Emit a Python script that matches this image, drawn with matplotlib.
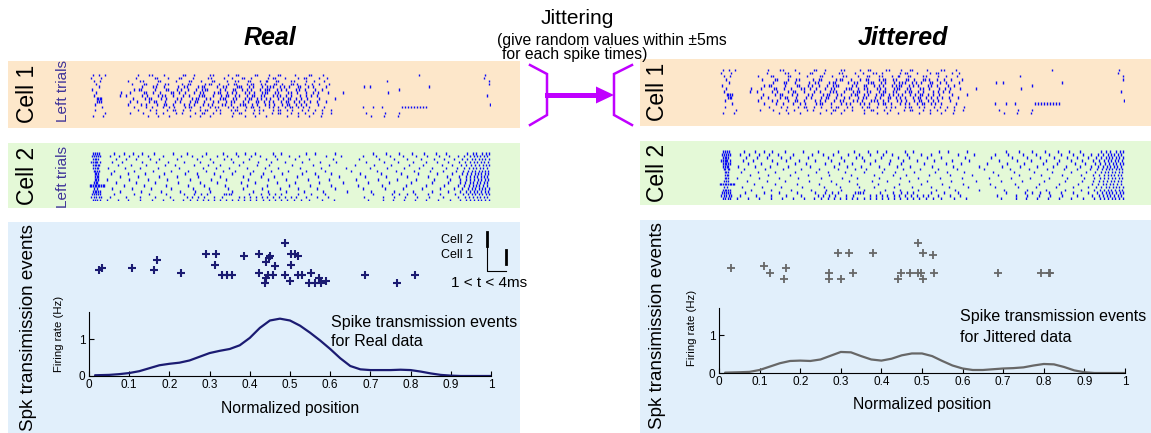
import numpy as np
import matplotlib
matplotlib.use("Agg")
import matplotlib.pyplot as plt
from matplotlib.patches import Rectangle, Polygon
from matplotlib.lines import Line2D

plt.rcParams['font.family'] = ['Liberation Sans', 'DejaVu Sans']

W, H = 1151, 433

# ---------------------------------------------------------------------------
# Spike rasters: one string per left-turn trial, spike positions given in
# thousandths of the normalized track position.
# ---------------------------------------------------------------------------
cell1_trials = [
    "9 24 40 121 150 157 186 233 240 262 301 309 347 366 371 412 418 449 470 476 512 547 553 583 821 984",
    "4 30 118 163 170 197 224 229 258 296 303 336 355 380 386 402 446 458 463 487 519 534 540 573 592 983",
    "13 27 96 127 134 171 176 217 249 253 279 306 312 343 364 370 395 401 426 440 444 466 471 503 511 540 559 585 742 996",
    "17 107 138 143 169 190 196 232 247 251 288 299 304 324 347 361 366 393 404 409 429 437 460 466 481 502 508 517 538 554 571 598 996",
    "24 133 160 166 187 222 236 243 271 280 285 318 333 340 367 374 379 399 408 430 443 451 457 476 484 497 519 525 545 558 590 683 699 846",
    "7 111 124 129 163 191 197 219 228 246 267 281 289 294 327 338 357 363 381 394 403 425 437 444 449 467 478 490 514 522 537 563 580 771",
    "18 80 103 136 141 159 177 203 209 224 240 261 277 284 312 320 325 343 356 365 389 397 410 431 439 444 463 470 495 503 518 541 556 569 594 633 743",
    "12 76 93 131 144 171 182 188 209 234 248 273 282 287 308 329 341 346 364 372 393 405 410 428 436 457 468 474 491 502 526 539 552 567 991",
    "19 23 27 31 109 139 150 155 179 192 219 230 257 266 271 291 300 325 334 339 358 366 387 399 404 418 429 441 450 471 483 494 499 516 528 543 573 611",
    "21 26 30 103 120 150 162 167 189 214 227 252 263 268 287 309 321 342 354 361 384 396 416 421 435 447 458 477 489 494 511 522 536 549 566 589",
    "16 97 130 143 170 186 192 210 237 249 261 283 297 305 331 339 352 375 383 389 405 417 438 449 461 480 493 498 514 527 540 569 997",
    "33 111 141 157 183 199 212 238 249 254 275 301 313 322 347 358 369 391 404 409 424 447 458 469 488 500 506 521 533 548 584 681 707 730 779 786 794 801 809 816 823 831 838",
    "14 123 152 167 194 209 214 235 251 277 288 293 315 327 352 364 369 388 411 423 434 457 469 474 492 504 529 545 561 579 603",
    "41 101 134 166 184 216 231 263 280 285 309 327 358 374 379 407 422 455 471 476 503 520 538 557 579 601 689 736 770",
    "11 36 147 171 199 250 276 301 356 388 414 441 493 520 548 577 702 733 769",
]

cell2_trials = [
    "10 15 20 25 62 88 110 131 162 208 243 292 333 366 389 412 457 478 541 563 611 706 738 772 803 834 862 889 941 954 963 977 988 996",
    "8 13 18 22 27 51 74 99 122 146 183 229 256 281 318 344 371 404 426 462 497 523 589 627 681 713 748 781 814 842 871 896 917 934 947 957 966 973 982 991",
    "9 14 18 23 66 93 118 152 174 219 268 301 337 352 398 441 467 513 548 606 671 722 759 791 826 858 883 908 928 941 952 960 969 978 986 994",
    "5 10 14 17 20 27 58 83 131 166 197 236 277 309 358 384 421 452 488 530 574 615 689 733 769 806 838 866 893 921 936 949 958 966 975 983 992",
    "10 14 18 22 26 71 104 143 188 214 261 296 327 372 419 449 505 558 597 661 709 751 797 832 877 902 925 939 951 961 970 979 987 995",
    "11 15 19 23 47 89 126 171 225 283 316 349 393 438 471 524 577 640 698 741 784 822 854 889 916 934 945 955 963 972 981 990",
    "12 16 21 25 62 113 158 203 247 292 334 362 407 452 496 540 586 652 716 763 808 849 881 913 931 944 953 961 969 977 985 993",
    "14 18 22 54 97 139 186 239 268 311 356 401 433 480 531 562 603 675 726 777 819 866 903 927 940 950 959 967 976 984 992",
    "15 19 23 76 121 175 218 272 326 382 428 461 517 569 622 687 740 792 844 891 920 937 948 957 966 974 983 991",
    "14 18 22 44 99 147 194 251 304 341 395 446 489 544 598 664 718 766 813 857 898 924 938 949 958 967 975 984 993",
    "13 17 21 68 118 163 221 275 319 377 414 467 513 571 633 694 747 801 852 894 922 936 947 956 965 973 982 990",
    "2 6 10 14 18 22 26 30 34 38 86 137 191 246 287 339 392 443 498 549 602 668 729 788 838 884 919 933 945 954 963 971 980 989",
    "12 19 57 106 153 205 259 298 345 383 431 476 521 567 613 681 736 781 829 873 909 929 942 952 961 970 978 986 994",
    "10 14 18 22 28 78 129 178 227 263 301 356 408 446 489 534 582 641 701 759 806 853 892 924 938 948 957 966 975 984 993",
    "8 13 18 23 28 63 111 149 192 236 262 278 294 336 342 348 354 397 428 448 463 478 521 553 588 707 753 771 790 812 843 873 910 931 943 952 960 969 978 987 995",
    "6 12 18 24 30 51 92 128 164 201 244 257 271 285 312 331 372 386 401 415 430 444 458 472 487 502 516 539 568 594 685 731 759 787 815 846 881 918 935 946 955 964 973 982 991",
    "9 15 21 27 44 71 98 127 156 183 209 233 251 268 283 297 312 327 341 356 371 386 401 416 432 447 463 478 493 509 527 548 580 609 694 731 757 784 811 838 867 897 924 938 949 958 967 976 985 994",
]

# ---------------------------------------------------------------------------
# Spike transmission events (position, stacking level) and firing-rate curves
# ---------------------------------------------------------------------------
real_event_pos = [0.025, 0.032, 0.107, 0.162, 0.168, 0.230, 0.290, 0.316, 0.313, 0.330,
                  0.343, 0.356, 0.386, 0.424, 0.450, 0.447, 0.441, 0.424, 0.445, 0.458,
                  0.441, 0.437, 0.462, 0.488, 0.503, 0.512, 0.519, 0.503, 0.488, 0.499,
                  0.520, 0.531, 0.552, 0.548, 0.561, 0.573, 0.578, 0.590, 0.687, 0.767,
                  0.812]
real_event_lvl = [5.5, 6.2, 6.2, 5.5, 8.5, 4.7, 10.0, 10.0, 7.0, 4.0,
                  4.0, 4.0, 9.5, 10.0, 9.5, 9.0, 7.8, 4.7, 4.0, 4.0,
                  3.2, 1.7, 6.5, 13.2, 10.0, 10.0, 9.5, 7.0, 4.0, 2.2,
                  4.0, 4.0, 4.7, 1.7, 1.7, 3.2, 1.7, 2.2, 4.0, 1.7,
                  4.0]

jit_event_pos = [0.029, 0.110, 0.125, 0.166, 0.160, 0.272, 0.272, 0.293, 0.319, 0.300,
                 0.331, 0.379, 0.442, 0.448, 0.470, 0.491, 0.491, 0.497, 0.502, 0.503,
                 0.528, 0.530, 0.686, 0.792, 0.813, 0.816]
jit_event_lvl = [5.5, 6.3, 4.0, 5.5, 2.2, 4.0, 2.2, 10.0, 10.0, 2.2,
                 4.0, 10.0, 2.2, 4.0, 4.0, 4.0, 13.2, 4.0, 2.2, 10.0,
                 9.5, 4.0, 4.0, 4.0, 4.0, 4.0]

rate_pos = [0.015, 0.05, 0.075, 0.1, 0.125, 0.15, 0.175, 0.2, 0.225, 0.25,
            0.275, 0.3, 0.325, 0.35, 0.375, 0.4, 0.425, 0.45, 0.475, 0.5,
            0.525, 0.55, 0.575, 0.6, 0.625, 0.65, 0.675, 0.7, 0.725, 0.75,
            0.775, 0.8, 0.825, 0.85, 0.875, 0.9, 0.925, 0.95, 0.975, 1.0]
real_rate = [0.02, 0.03, 0.05, 0.08, 0.13, 0.21, 0.29, 0.33, 0.36, 0.42,
             0.52, 0.62, 0.68, 0.73, 0.83, 1.03, 1.30, 1.50, 1.55, 1.50,
             1.36, 1.17, 0.96, 0.73, 0.48, 0.27, 0.18, 0.16, 0.16, 0.16,
             0.17, 0.16, 0.12, 0.07, 0.03, 0.01, 0.0, 0.0, 0.0, 0.0]
jit_rate = [0.01, 0.02, 0.03, 0.08, 0.17, 0.26, 0.32, 0.33, 0.32, 0.36,
            0.46, 0.56, 0.55, 0.45, 0.36, 0.33, 0.38, 0.47, 0.52, 0.52,
            0.45, 0.32, 0.20, 0.12, 0.08, 0.08, 0.10, 0.12, 0.13, 0.15,
            0.20, 0.24, 0.23, 0.16, 0.07, 0.02, 0.0, 0.0, 0.0, 0.0]

x_ticks = [0, 0.1, 0.2, 0.3, 0.4, 0.5, 0.6, 0.7, 0.8, 0.9, 1]
x_tick_labels = ["0", "0.1", "0.2", "0.3", "0.4", "0.5", "0.6", "0.7", "0.8", "0.9", "1"]

ORANGE = "#FDE7CA"
GREEN = "#E4F9D7"
BLUE_BG = "#E1EFFB"
SPIKE = "#0A0AF5"
NAVY = "#1B1B72"
GREY = "#676767"
MAGENTA = "#C000FF"
LABEL_PURPLE = "#3F3399"

fig = plt.figure(figsize=(W / 100, H / 100), dpi=100)


def rect(x0, y0, x1, y1):
    """Figure-fraction rectangle from pixel bounds (origin top-left)."""
    return [x0 / W, 1 - y1 / H, (x1 - x0) / W, (y1 - y0) / H]


def P(x, y):
    return (x / W, 1 - y / H)


def background(x0, y0, x1, y1, color):
    r = Rectangle(P(x0, y1), (x1 - x0) / W, (y1 - y0) / H, transform=fig.transFigure,
                  facecolor=color, edgecolor="none", zorder=-10)
    fig.add_artist(r)


def text(x, y, s, **kw):
    kw.setdefault("ha", "center")
    kw.setdefault("va", "center")
    fig.text(x / W, 1 - y / H, s, **kw)


def raster(box, trials):
    ax = fig.add_axes(rect(*box))
    spikes = [[int(v) / 1000 for v in t.split()] for t in trials]
    ax.eventplot(spikes, orientation="horizontal", lineoffsets=list(range(len(spikes))),
                 linelengths=0.85, linewidths=1.0, colors=SPIKE)
    ax.set_xlim(0, 1)
    ax.set_ylim(len(spikes) - 0.5, -0.5)
    ax.axis("off")
    return ax


def events(box, pos, lvl, color, ms, mew):
    ax = fig.add_axes(rect(*box))
    ax.plot(pos, lvl, linestyle="none", marker="+", color=color, ms=ms, mew=mew)
    ax.set_xlim(0, 1)
    ax.set_ylim(0, 15)
    ax.axis("off")
    return ax


def rate(box, pos, values, color):
    ax = fig.add_axes(rect(*box))
    ax.patch.set_visible(False)
    ax.plot(pos, values, color=color, lw=1.6, solid_capstyle="round")
    ax.set_xlim(0, 1)
    ax.set_ylim(0, 1.73)
    ax.set_xticks(x_ticks)
    ax.set_xticklabels(x_tick_labels)
    ax.set_yticks([0, 1])
    ax.set_yticklabels(["0", "1"])
    for side in ("top", "right"):
        ax.spines[side].set_visible(False)
    for side in ("left", "bottom"):
        ax.spines[side].set_linewidth(0.8)
    ax.tick_params(direction="in", length=3.5, width=0.8, labelsize=8.5, pad=2.5)
    return ax


# --- coloured panels -------------------------------------------------------
background(8, 61, 520, 128, ORANGE)
background(8, 143, 520, 208, GREEN)
background(8, 222, 520, 433, BLUE_BG)
background(640, 59, 1151, 126, ORANGE)
background(640, 141, 1151, 205, GREEN)
background(640, 220, 1151, 433, BLUE_BG)

# --- rasters ----------------------------------------------------------------
raster((89, 73.5, 491, 117.5), cell1_trials)
raster((89, 151.8, 491, 201.5), cell2_trials)
raster((719, 68.5, 1125, 114.5), cell1_trials)
raster((719, 150.2, 1125, 200.0), cell2_trials)

# --- spike transmission events and firing rates -----------------------------
events((89, 237.2, 491, 288.9), real_event_pos, real_event_lvl, NAVY, 6, 1.5)
events((719, 236.7, 1125, 286.7), jit_event_pos, jit_event_lvl, GREY, 5.5, 1.3)
rate((89, 312, 491, 376), rate_pos, real_rate, NAVY)
rate((719, 308, 1125, 373), rate_pos, jit_rate, GREY)

# --- titles and labels ------------------------------------------------------
text(270, 38, "Real", fontsize=18, fontweight="bold", fontstyle="italic")
text(903, 38, "Jittered", fontsize=18, fontweight="bold", fontstyle="italic")
text(577, 18, "Jittering", fontsize=15)
text(497, 40, "(give random values within \u00b15ms", fontsize=11.3, ha="left")
text(502, 55, "for each spike times)", fontsize=11.3, ha="left")

for cx, y1, y2 in ((27, 94, 176), (658, 92, 173)):
    text(cx, y1, "Cell 1", fontsize=16.5, rotation=90)
    text(cx, y2, "Cell 2", fontsize=16.5, rotation=90)
text(63, 91, "Left trials", fontsize=11, rotation=90, color=LABEL_PURPLE)
text(63, 177, "Left trials", fontsize=11, rotation=90, color=LABEL_PURPLE)

text(29, 328, "Spk transimission events", fontsize=13.5, rotation=90)
text(657, 326, "Spk transimission events", fontsize=13.5, rotation=90)
text(59, 334, "Firing rate (Hz)", fontsize=8.2, rotation=90)
text(692, 328, "Firing rate (Hz)", fontsize=8.2, rotation=90)
text(290, 408, "Normalized position", fontsize=11.3)
text(922, 405, "Normalized position", fontsize=11.3)

text(331, 322, "Spike transmission events", fontsize=11.5, ha="left")
text(331, 342, "for Real data", fontsize=11.5, ha="left")
text(960, 317, "Spike transmission events", fontsize=11.5, ha="left")
text(960, 337, "for Jittered data", fontsize=11.5, ha="left")

# --- lag inset: cell 2 fires 1-4 ms after cell 1 ---------------------------
text(473, 240, "Cell 2", fontsize=9, ha="right")
text(473, 255, "Cell 1", fontsize=9, ha="right")
fig.add_artist(Line2D([487 / W, 487 / W], [1 - 232 / H, 1 - 246 / H], color="black", lw=2.0,
                      transform=fig.transFigure))
fig.add_artist(Line2D([506 / W, 506 / W], [1 - 250 / H, 1 - 264 / H], color="black", lw=2.0,
                      transform=fig.transFigure))
fig.add_artist(Line2D([487 / W, 487 / W, 506 / W], [1 - 246 / H, 1 - 271 / H, 1 - 271 / H],
                      color="black", lw=0.8, transform=fig.transFigure))
text(489, 283, "1 < t < 4ms", fontsize=11)

# --- jitter arrow between the two columns ----------------------------------
for xs, ys in (([530, 547, 547, 530], [65, 74, 115, 125]),
               ([632, 614, 614, 632], [65, 74, 115, 125])):
    fig.add_artist(Line2D([x / W for x in xs], [1 - y / H for y in ys], color=MAGENTA,
                          lw=1.8, transform=fig.transFigure, solid_joinstyle="miter"))
fig.add_artist(Line2D([547 / W, 598 / W], [1 - 95 / H, 1 - 95 / H], color=MAGENTA, lw=3.6,
                      transform=fig.transFigure))
fig.add_artist(Polygon([P(596, 86.5), P(596, 103.5), P(614, 95)], closed=True,
                       facecolor=MAGENTA, edgecolor="none", transform=fig.transFigure))

fig.savefig("out.png", dpi=100)
